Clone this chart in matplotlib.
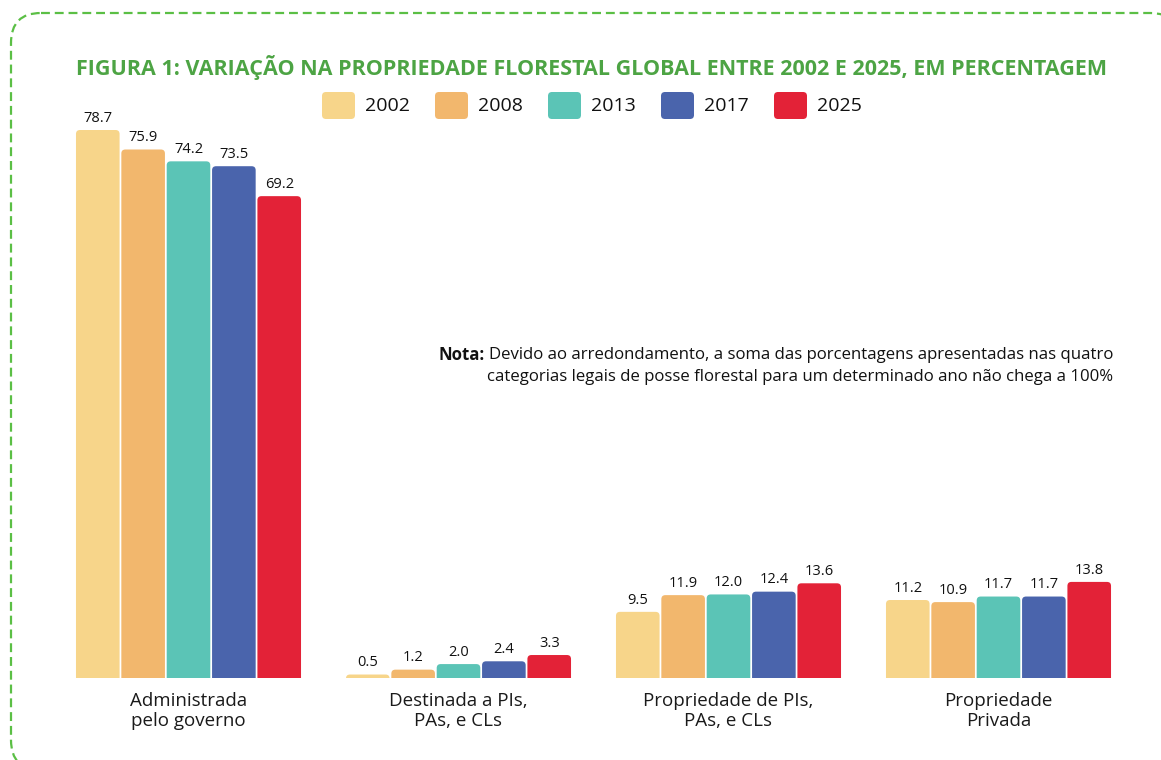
import matplotlib
matplotlib.use("Agg")
import matplotlib.pyplot as plt
import numpy as np
from matplotlib.patches import FancyBboxPatch

categories = ["Administrada\npelo governo", "Destinada a PIs,\nPAs, e CLs",
              "Propriedade de PIs,\nPAs, e CLs", "Propriedade\nPrivada"]
years = ["2002", "2008", "2013", "2017", "2025"]
v2002 = [78.7, 0.5, 9.5, 11.2]
v2008 = [75.9, 1.2, 11.9, 10.9]
v2013 = [74.2, 2.0, 12.0, 11.7]
v2017 = [73.5, 2.4, 12.4, 11.7]
v2025 = [69.2, 3.3, 13.6, 13.8]
series = [v2002, v2008, v2013, v2017, v2025]
colors = ["#F7D58A", "#F2B76D", "#5BC4B6", "#4A64AC", "#E32237"]

title = "FIGURA 1: VARIAÇÃO NA PROPRIEDADE FLORESTAL GLOBAL ENTRE 2002 E 2025, EM PERCENTAGEM"
note1 = "Devido ao arredondamento, a soma das porcentagens apresentadas nas quatro"
note2 = "categorias legais de posse florestal para um determinado ano não chega a 100%"

GREEN = "#4DA444"
plt.rcParams["font.family"] = ["Open Sans", "DejaVu Sans"]

W, H = 1161, 760
fig = plt.figure(figsize=(W / 100, H / 100), dpi=100)

# main axes: baseline at y=678px, top (78.7) at y=130px
ax = fig.add_axes([0, (H - 678) / H, 1, 548 / H])
x0px, gstep = 188.5, 270.0
ax.set_xlim(-x0px / gstep, (W - x0px) / gstep)
ax.set_ylim(0, 78.7)
for s in ax.spines.values():
    s.set_visible(False)
ax.set_yticks([])

x = np.arange(len(categories))
pitch, width = 0.168, 0.1615
ypx = 78.7 / 548
rx = 4 / gstep
for i, (vals, c) in enumerate(zip(series, colors)):
    bars = ax.bar(x + (i - 2) * pitch, vals, width, color=c)
    for b, v in zip(bars, vals):
        b.set_visible(False)
        p = FancyBboxPatch((b.get_x(), -3), b.get_width(), v + 3,
                           boxstyle=f"round,pad=0,rounding_size={rx}",
                           mutation_aspect=(4 * ypx) / rx,
                           fc=c, ec="none")
        ax.add_patch(p)
        ax.annotate(f"{v:.1f}", (b.get_x() + b.get_width() / 2, v),
                    xytext=(0, 3), textcoords="offset points",
                    ha="center", va="bottom", fontsize=10.5, color="#111111")

ax.set_xticks(x)
ax.set_xticklabels(categories, fontsize=13.5, color="#1a1a1a", linespacing=1.15)
ax.tick_params(axis="x", length=0, pad=10)

# overlay in pixel coordinates (y down) for frame, title, legend and note
ov = fig.add_axes([0, 0, 1, 1])
ov.set_xlim(0, W)
ov.set_ylim(H, 0)
ov.set_axis_off()

# dashed rounded frame, runs past the right and bottom edges
box = FancyBboxPatch((11, 13), 1169, 757, boxstyle="round,pad=0,rounding_size=30")
for poly in box.get_path().to_polygons(closed_only=False):
    ov.plot(poly[:, 0], poly[:, 1], color="#5BBF45", lw=1.6,
            linestyle=(0, (4.0, 2.2)), solid_capstyle="butt")

ov.text(591, 67, title, ha="center", va="center", fontsize=15.5,
        fontweight="bold", color=GREEN)

for i, (yr, c) in enumerate(zip(years, colors)):
    lx = 322 + 113 * i
    ov.add_patch(FancyBboxPatch((lx, 92), 33, 27, boxstyle="round,pad=0,rounding_size=4",
                                fc=c, ec="none"))
    ov.text(lx + 43, 106, yr, ha="left", va="center", fontsize=14, color="#111111")

t1 = ov.text(1113, 355, note1, ha="right", va="center", fontsize=12.1,
             color="#111111")
ov.text(1113, 377, note2, ha="right", va="center", fontsize=12.1,
        color="#111111")
fig.canvas.draw()
bb = t1.get_window_extent()
ov.text(bb.x0 - 4, 355, "Nota:", ha="right", va="center", fontsize=12.1,
        fontweight="bold", color="#111111")

fig.savefig("out.png", dpi=100)
